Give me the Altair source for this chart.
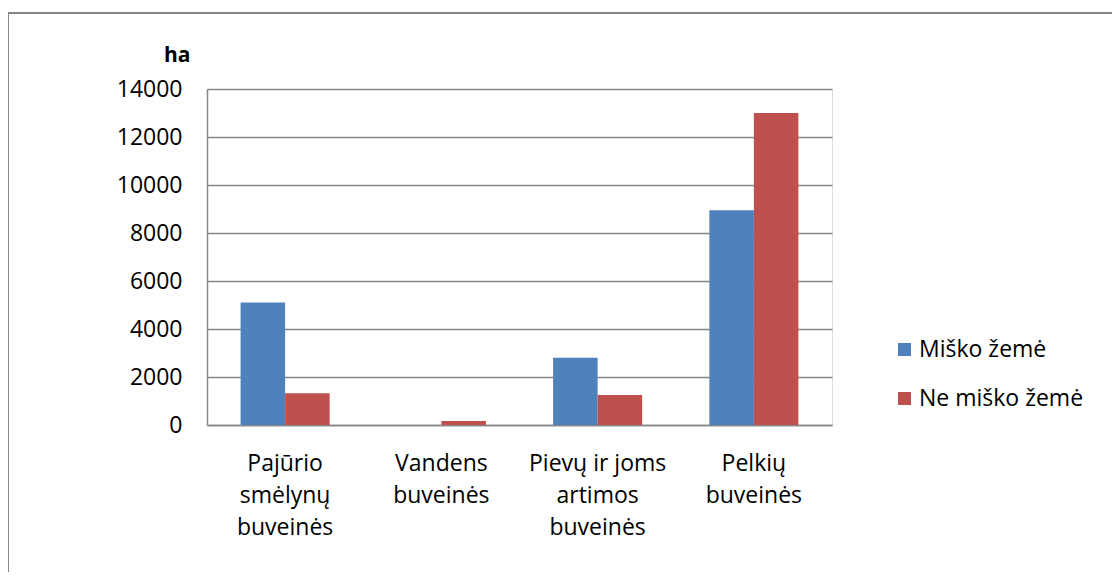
import altair as alt
import pandas as pd

categories = ["Pajūrio\nsmėlynų\nbuveinės", "Vandens\nbuveinės", "Pievų ir joms\nartimos\nbuveinės", "Pelkių\nbuveinės"]
series = ["Miško žemė", "Ne miško žemė"]
misko = [5100, 0, 2800, 8950]
ne_misko = [1320, 170, 1250, 13000]
y_ticks = [0, 2000, 4000, 6000, 8000, 10000, 12000, 14000]
colors = ["#4F81BD", "#C0504D"]

rows = []
for c, a, b in zip(categories, misko, ne_misko):
    rows.append({"cat": c, "series": series[0], "value": a})
    rows.append({"cat": c, "series": series[1], "value": b})
df = pd.DataFrame(rows)

FONT = "Open Sans"
W, H = 625, 336

bars = alt.Chart(df).mark_bar().encode(
    x=alt.X("cat:N", sort=categories,
            scale=alt.Scale(paddingInner=0.43, paddingOuter=0.215),
            axis=alt.Axis(title=None, labelAngle=0, ticks=False,
                          labelExpr="split(datum.label, '\\n')",
                          labelFont=FONT, labelFontSize=23, labelColor="#000",
                          labelLineHeight=32, labelPadding=27,
                          domainColor="#868686", domainWidth=1.5, grid=False)),
    xOffset=alt.XOffset("series:N", sort=series, scale=alt.Scale(paddingInner=0, paddingOuter=0)),
    y=alt.Y("value:Q", scale=alt.Scale(domain=[0, 14000], nice=False),
            axis=alt.Axis(title="ha", values=y_ticks, format="d", ticks=False, labelPadding=25,
                          labelFont=FONT, labelFontSize=23, labelColor="#000",
                          titleFont=FONT, titleFontSize=21, titleFontWeight="bold",
                          titleColor="#000", titleAngle=0, titleAlign="right",
                          titleBaseline="middle", titleX=-17, titleY=-34,
                          domainColor="#868686", domainWidth=1.5,
                          gridColor="#868686", gridWidth=1.5)),
    color=alt.Color("series:N", sort=series,
                    scale=alt.Scale(domain=series, range=colors),
                    legend=alt.Legend(title=None, orient="none", legendX=686, legendY=249,
                                      symbolType="square", symbolSize=169,
                                      symbolStrokeWidth=0, labelFont=FONT,
                                      labelFontSize=23, labelColor="#000", labelLimit=400,
                                      labelOffset=3, rowPadding=25)),
)

frame_top = alt.Chart(df).mark_rule(color="#868686", strokeWidth=1.5).encode(
    x=alt.value(-199), x2=alt.value(W + 280), y=alt.value(-76))
frame_left = alt.Chart(df).mark_rule(color="#868686", strokeWidth=1.5).encode(
    x=alt.value(-199), y=alt.value(-76), y2=alt.value(H + 147))

chart = alt.layer(bars, frame_top, frame_left).properties(
    width=W, height=H,
    autosize=alt.AutoSizeParams(type="none"),
    padding={"left": 199, "top": 81, "right": 280, "bottom": 147},
).configure_view(stroke=None).configure(background="white")

chart.save("out.html", embed_options={"renderer": "svg", "actions": False})
